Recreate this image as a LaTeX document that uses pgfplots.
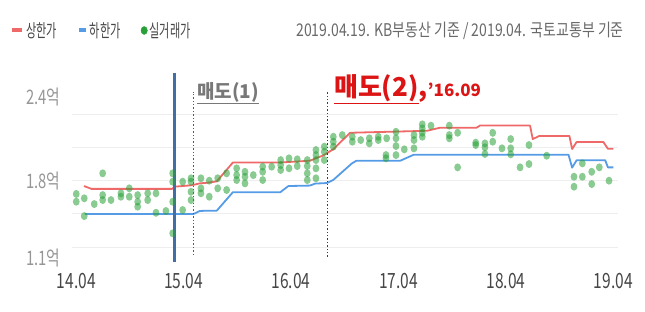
\documentclass[border=0pt]{standalone}
\usepackage{pgfplots}
\pgfplotsset{compat=1.18}
\usepackage{fontspec}
\setmainfont{Noto Sans CJK KR}
\newfontfamily\nf{Noto Sans CJK KR}[FakeStretch=0.74]
\newfontfamily\lf{Noto Sans CJK KR}[FakeStretch=0.62]
\newfontfamily\hf{Noto Sans CJK KR}[FakeStretch=0.8]
\definecolor{upr}{RGB}{240,105,105}
\definecolor{lowb}{RGB}{85,155,230}
\definecolor{dotg}{RGB}{40,160,55}
\definecolor{vblue}{RGB}{65,110,165}
\definecolor{vred}{RGB}{160,20,20}
\definecolor{annred}{RGB}{220,20,20}
\definecolor{gridc}{RGB}{238,238,238}
\definecolor{xlab}{RGB}{70,70,70}
\definecolor{ylab}{RGB}{150,150,150}
\definecolor{hdr}{RGB}{105,105,105}
\definecolor{anngray}{RGB}{120,120,120}

\pgfplotstableread{
m v
0.0 1.681
0.0 1.611
0.89 1.642
0.89 1.481
2.01 1.590
2.95 1.868
2.95 1.671
2.95 1.626
3.88 1.626
4.99 1.687
4.99 1.656
5.92 1.732
5.92 1.656
6.86 1.671
6.86 1.611
6.86 1.566
7.98 1.687
7.98 1.626
8.91 1.687
8.91 1.511
10.02 1.527
10.77 1.868
10.77 1.792
10.77 1.611
10.77 1.325
11.89 1.792
11.89 1.536
12.82 1.823
12.82 1.792
12.82 1.701
12.82 1.626
13.93 1.823
13.93 1.732
13.93 1.687
14.86 1.656
14.86 1.801
15.80 1.823
15.80 1.732
16.80 1.868
16.80 1.717
17.92 1.913
17.92 1.852
17.92 1.807
18.85 1.882
18.85 1.837
18.85 1.777
19.78 1.852
20.83 1.928
20.83 1.882
20.83 1.807
21.83 1.928
22.84 1.988
22.84 1.943
22.84 1.898
23.77 2.004
23.77 1.913
24.69 1.995
24.69 1.934
25.81 1.988
25.81 1.934
25.81 1.868
25.81 1.807
26.78 2.079
26.78 2.033
26.78 1.988
26.78 1.913
26.78 1.823
27.71 2.109
27.71 2.063
27.71 1.988
28.72 2.199
28.72 2.154
28.72 2.109
29.72 2.214
30.84 2.199
30.84 2.154
31.78 2.169
32.74 2.185
32.74 2.139
33.74 2.199
33.74 2.169
34.68 2.185
34.60 2.033
34.60 2.004
35.72 2.244
35.72 2.185
35.72 2.115
35.72 2.033
36.65 2.085
37.73 2.214
37.73 2.169
37.73 2.094
38.66 2.311
38.66 2.275
38.66 2.235
38.66 2.199
39.63 2.299
41.68 2.299
41.68 2.214
41.68 2.185
42.61 2.235
42.61 1.922
44.63 2.145
44.63 2.124
45.66 2.139
45.66 2.103
45.66 2.043
46.53 2.235
46.53 2.154
47.56 2.094
48.54 2.178
48.54 2.094
48.54 2.040
49.58 1.922
50.58 2.124
50.58 1.952
52.56 2.027
55.61 1.837
55.61 1.747
56.54 1.958
56.54 1.837
57.59 1.882
57.59 1.771
58.44 1.922
59.52 1.801
}\dealstab

\pgfplotstableread{
m v
0.86 1.753
1.7 1.727
10.7 1.727
11.0 1.747
12.9 1.760
13.8 1.777
14.7 1.783
15.7 1.795
17.5 1.966
22.8 1.966
26.1 1.982
27.6 2.030
28.7 2.085
30.6 2.235
35.4 2.245
39.2 2.253
40.6 2.280
44.7 2.280
45.1 2.300
50.7 2.300
51.0 2.178
51.7 2.205
55.1 2.205
55.4 2.088
55.9 2.151
58.9 2.151
59.4 2.090
60.0 2.090
}\uppertab

\pgfplotstableread{
m v
0.97 1.500
13.1 1.500
13.8 1.527
14.7 1.530
15.7 1.530
17.5 1.697
22.8 1.697
23.7 1.753
26.1 1.757
26.7 1.775
28.0 1.780
28.7 1.807
30.8 1.958
31.3 1.982
36.2 1.982
37.7 2.036
55.0 2.036
55.4 1.919
55.9 1.986
59.1 1.986
59.4 1.922
60.0 1.922
}\lowertab

\begin{document}
\begin{tikzpicture}
\path[use as bounding box] (0,0) rectangle (645pt,312pt);
\begin{axis}[
  at={(71.7pt,48.3pt)}, anchor=south west, scale only axis,
  width=546.6pt, height=204.4pt,
  xmin=-0.51, xmax=60.56, ymin=1.05, ymax=2.9,
  axis line style={draw=none},
  tick style={draw=none},
  major tick length=0pt,
  xtick={0,12,24,36,48,60},
  xticklabels={14.04,15.04,16.04,17.04,18.04,19.04},
  xticklabel style={font=\nf\fontsize{21}{21}\selectfont, text=xlab, yshift=-6pt},
  ytick={1.1,1.8}, yticklabels={1.1억,1.8억},
  extra y ticks={2.4}, extra y tick labels={2.4억},
  extra y tick style={yticklabel style={yshift=18pt}},
  yticklabel style={font=\nf\fontsize{20}{20}\selectfont, text=ylab, xshift=-8pt},
  minor ytick={1.2,1.5,1.8,2.1,2.4}, yminorgrids=true,
  minor grid style={gridc, line width=1pt},
  /pgf/number format/assume math mode=true,
  legend columns=3,
  legend style={at={(-0.1129,1.1409)}, anchor=west, draw=none, fill=none,
    font=\lf\fontsize{18}{18}\selectfont, text=xlab, inner sep=0pt,
    /tikz/every even column/.append style={column sep=18pt}},
]
\addlegendimage{legend image code/.code={\draw[upr, line width=4pt] (0pt,0pt) -- (10pt,0pt);}}
\addlegendimage{legend image code/.code={\draw[lowb, line width=4pt] (2pt,0pt) -- (9pt,0pt);}}
\addlegendimage{legend image code/.code={\fill[dotg] (5pt,0pt) ellipse (3.2pt and 4pt);}}
\legend{상한가,하한가,실거래가}

\addplot[only marks, mark=*, color=dotg, mark size=4pt,
  mark options={xscale=0.85, draw opacity=0, fill=dotg, fill opacity=0.55}, forget plot] table[x=m,y=v] {\dealstab};
\addplot[upr, line width=1.8pt, line join=round, forget plot] table[x=m,y=v] {\uppertab};
\addplot[lowb, line width=1.8pt, line join=round, forget plot] table[x=m,y=v] {\lowertab};

\draw[vblue, line width=3pt] (axis cs:10.95,1.065) -- (axis cs:10.95,2.777);
\draw[black!65, dotted, line width=1.4pt] (axis cs:13.07,1.128) -- (axis cs:13.07,2.606);
\draw[vred, dotted, line width=1.4pt] (axis cs:28.04,1.113) -- (axis cs:28.04,2.62);

\node[anchor=base west, inner sep=0pt, text=anngray, font=\bfseries\fontsize{19}{19}\selectfont] at (axis cs:13.49,2.549) {\underline{매도(1)}};
\node[anchor=base west, inner sep=0pt, text=annred] at (axis cs:28.79,2.567) {{\bfseries\fontsize{26}{26}\selectfont\underline{매도(2)},}{\bfseries\fontsize{17}{17}\selectfont'16.09}};
\end{axis}
\node[anchor=east, inner sep=0pt, text=hdr, font=\hf\fontsize{17.5}{17.5}\selectfont] at (624pt,281pt) {2019.04.19. KB부동산 기준 / 2019.04. 국토교통부 기준};
\end{tikzpicture}
\end{document}
